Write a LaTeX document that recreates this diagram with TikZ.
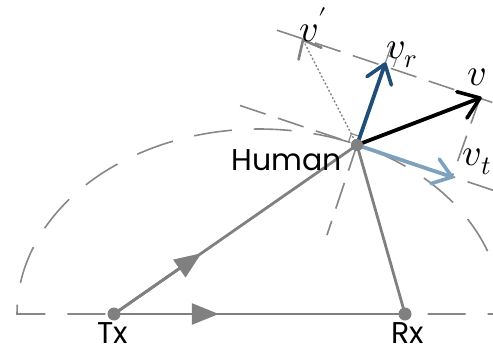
\documentclass[tikz,border=0pt]{standalone}
\usepackage{fontspec}
\usepackage{unicode-math}
\setmainfont{Poppins}
\setmathfont{Latin Modern Math}
\usetikzlibrary{arrows.meta,calc}
\definecolor{lgray}{RGB}{128,128,128}
\definecolor{dgray}{RGB}{135,135,135}
\definecolor{dblue}{RGB}{31,78,121}
\definecolor{lblue}{RGB}{125,162,192}
\begin{document}
\begin{tikzpicture}[x=1pt,y=-1pt,
  dashln/.style={draw=dgray, line width=1.6pt, dash pattern=on 27pt off 13pt},
  ellln/.style={draw=dgray, line width=1.6pt, dash pattern=on 38pt off 22pt, dash phase=55pt},
  solidln/.style={draw=lgray, line width=2.8pt},
  dotnode/.style={circle, fill=lgray, inner sep=0pt, minimum size=13pt},
  lbl/.style={font=\fontsize{30}{36}\selectfont, inner sep=0pt},
  mlbl/.style={font=\fontsize{38}{44}\selectfont, inner sep=0pt},
  vec/.style={line width=3.8pt, shorten >=2pt},
  chev/.style={line width=3.6pt, line cap=round, line join=round},
  rmark/.style={draw=dgray, line width=1.2pt}
]
\useasboundingbox (0,0) rectangle (493,354);
\clip (0,0) rectangle (493,354);

% points
\node[dotnode] (tx) at (114,314) {};
\node[dotnode] (rx) at (405,314) {};
\node[dotnode, minimum size=12pt] (hm) at (357,145) {};
\coordinate (vtip) at (480,98);
\coordinate (vrtip) at (385,64);
\coordinate (vttip) at (452,177);
\coordinate (vptip) at (303,40);
\coordinate (tanA) at (240,105.5);
\coordinate (tanB) at (500,192.6);
\coordinate (parA) at (277,30.2);
\coordinate (parB) at (500,105);
\coordinate (normB) at (327,235);

% ellipse and baseline
\draw[ellln] plot[domain=0:180, samples=120] ({259.5+242.5*cos(\x)}, {314-185*sin(\x)}) -- (500,314);

% dashed construction lines
\draw[dashln] (tanA) -- (tanB);
\draw[dashln] (parA) -- (parB);
\draw[dashln] (hm.center) -- (normB);
\draw[dashln] (vtip) -- (vttip);

% solid paths
\draw[solidln] (tx.center) -- (hm.center);
\draw[solidln] (tx.center) -- (rx.center);
\draw[solidln] (hm.center) -- (rx.center);
\draw[solidln, -{Triangle[length=27pt,width=21pt]}] (tx.center) -- ($(tx.center)!0.36!(rx.center)$);
\draw[solidln, -{Triangle[length=27pt,width=21pt]}] (tx.center) -- ($(tx.center)!0.36!(hm.center)$);

% right angle marks
\draw[rmark] (vrtip) -- ($(hm.center)!1.22!(vrtip)$);
\draw[rmark] ($(vrtip)+(8.5,2.9)$) -- ++(2.9,-8.5) -- ++(-8.5,-2.9);
\draw[rmark] ($(hm.center)+(-8.5,-2.9)$) -- ++(2.9,-8.5) -- ++(8.5,2.9);

% v' dotted with open head
\draw[draw=dgray, line width=1.4pt, dash pattern=on 2pt off 2pt] (hm.center) -- (vptip);
\draw[draw=lgray, line width=2.6pt, line cap=round, line join=round]
  ($(vptip)!20pt!40:(hm.center)$) -- (vptip) -- ($(vptip)!20pt!-40:(hm.center)$);

% vectors
\draw[vec, draw=dblue] (hm.center) -- (vrtip);
\draw[chev, draw=dblue] ($(vrtip)!22pt!36:(hm.center)$) -- (vrtip) -- ($(vrtip)!22pt!-36:(hm.center)$);
\draw[vec, draw=lblue] (hm.center) -- (vttip);
\draw[chev, draw=lblue] ($(vttip)!22pt!36:(hm.center)$) -- (vttip) -- ($(vttip)!22pt!-36:(hm.center)$);
\draw[vec, draw=black] (hm.center) -- (vtip);
\draw[chev, draw=black] ($(vtip)!24pt!36:(hm.center)$) -- (vtip) -- ($(vtip)!24pt!-36:(hm.center)$);

\node[dotnode, minimum size=12pt] at (hm) {};

% labels
\node[lbl, anchor=base east] (hlab) at (342,170) {Human};
\node[lbl, anchor=base] (txlab) at (113,343) {Tx};
\node[lbl, anchor=base] (rxlab) at (408,343) {Rx};
\node[mlbl] (lvp) at (313,25) {$v'$};
\node[mlbl] (lvr) at (402,55) {$v_r$};
\node[mlbl] (lv) at (477,77) {$v$};
\node[mlbl] (lvt) at (477,162) {$v_t$};
\end{tikzpicture}
\end{document}
